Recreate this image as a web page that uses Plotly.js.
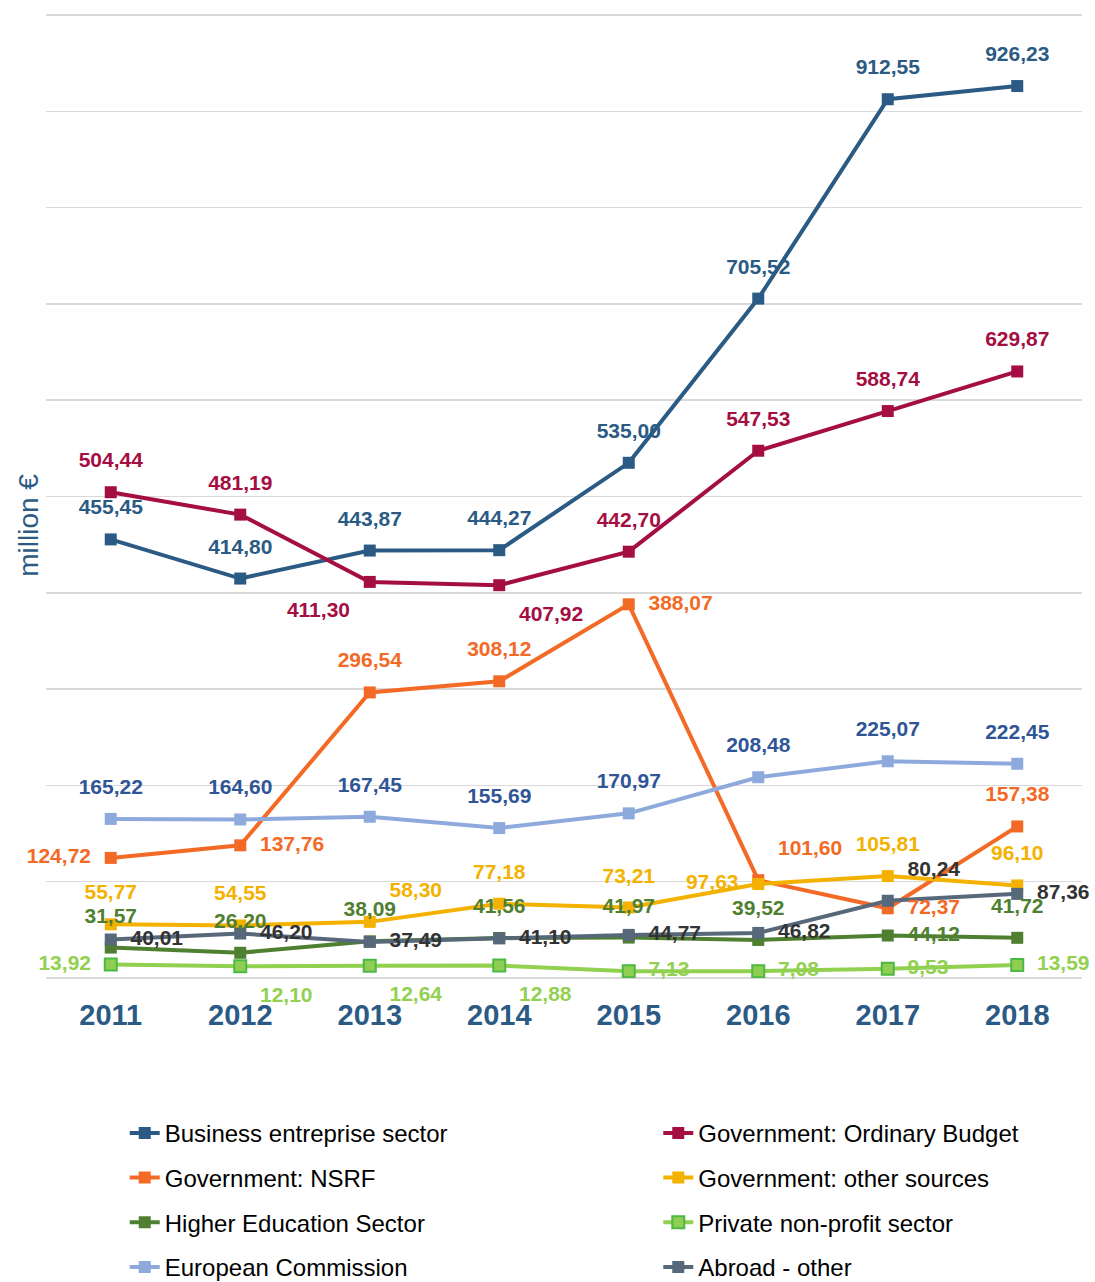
<!DOCTYPE html>
<html>
<head>
<meta charset="utf-8">
<script src="https://cdn.plot.ly/plotly-3.0.1.min.js"></script>
<style>html,body{margin:0;padding:0;background:#fff;}#chart{width:1095px;height:1282px;}</style>
</head>
<body>
<div id="chart"></div>
<script>
const years = ['2011','2012','2013','2014','2015','2016','2017','2018'];

const business      = [455.45, 414.80, 443.87, 444.27, 535.00, 705.52, 912.55, 926.23];
const govOrdinary   = [504.44, 481.19, 411.30, 407.92, 442.70, 547.53, 588.74, 629.87];
const govNSRF       = [124.72, 137.76, 296.54, 308.12, 388.07, 101.60, 72.37, 157.38];
const govOther      = [55.77, 54.55, 58.30, 77.18, 73.21, 97.63, 105.81, 96.10];
const higherEd      = [31.57, 26.20, 38.09, 41.56, 41.97, 39.52, 44.12, 41.72];
const privateNP     = [13.92, 12.10, 12.64, 12.88, 7.13, 7.08, 9.53, 13.59];
const euroComm      = [165.22, 164.60, 167.45, 155.69, 170.97, 208.48, 225.07, 222.45];
const abroadOther   = [40.01, 46.20, 37.49, 41.10, 44.77, 46.82, 80.24, 87.36];

const series = [
  {name:'Business entreprise sector', y:business, line:'#2b5b84', marker:'#2b5b84', mline:'#2b5b84', label:'#2b5b84', legend:'legend',
   pos:['top center','top center','top center','top center','top center','top center','top center','top center']},
  {name:'Government: Ordinary Budget', y:govOrdinary, line:'#a50e42', marker:'#a50e42', mline:'#a50e42', label:'#a50e42', legend:'legend2',
   pos:['top center','top center','bottom left','bottom right','top center','top center','top center','top center']},
  {name:'Government: NSRF', y:govNSRF, line:'#f36a26', marker:'#f36a26', mline:'#f36a26', label:'#f36a26', legend:'legend',
   pos:['middle left','middle right','top center','top center','middle right','top right','middle right','top center']},
  {name:'Government: other sources', y:govOther, line:'#f4b200', marker:'#f4b200', mline:'#f4b200', label:'#f4b200', legend:'legend2',
   pos:['top center','top center','top right','top center','top center','middle left','top center','top center']},
  {name:'Higher Education Sector', y:higherEd, line:'#4f7f30', marker:'#4f7f30', mline:'#4f7f30', label:'#4f7f30', legend:'legend',
   pos:['top center','top center','top center','top center','top center','top center','middle right','top center']},
  {name:'Private non-profit sector', y:privateNP, line:'#92d050', marker:'#8fce52', mline:'#4cb944', label:'#92d050', legend:'legend2',
   pos:['middle left','bottom right','bottom right','bottom right','middle right','middle right','middle right','middle right']},
  {name:'European Commission', y:euroComm, line:'#8eaadc', marker:'#8eaadc', mline:'#8eaadc', label:'#2f5597', legend:'legend',
   pos:['top center','top center','top center','top center','top center','top center','top center','top center']},
  {name:'Abroad - other', y:abroadOther, line:'#56687a', marker:'#56687a', mline:'#56687a', label:'#333333', legend:'legend2',
   pos:['middle right','middle right','middle right','middle right','middle right','middle right','top right','middle right']}
];

const fmt = v => v.toFixed(2).replace('.', ',');
const FONT = '"Liberation Sans", Arial, sans-serif';

const traces = [];
series.forEach((s, i) => {
  traces.push({
    type:'scatter', mode:'lines+markers', name:s.name, x:years, y:s.y,
    line:{color:s.line, width:4},
    marker:{symbol:'square', size:12, color:s.marker, line:{color:s.mline, width:(s.mline!==s.marker?2:0)}},
    legend:s.legend, legendgroup:'g'+i, hoverinfo:'x+y+name'
  });
});
series.forEach((s, i) => {
  traces.push({
    type:'scatter', mode:'markers+text', x:years, y:s.y,
    text:s.y.map(fmt), textposition:s.pos,
    textfont:{family:FONT, size:21, color:s.label, weight:'bold'},
    marker:{size:30, color:'rgba(0,0,0,0)'},
    showlegend:false, hoverinfo:'skip', cliponaxis:false
  });
});

const layout = {
  width:1095, height:1282,
  margin:{l:46, r:13, t:5, b:304, autoexpand:false},
  paper_bgcolor:'#ffffff', plot_bgcolor:'#ffffff',
  font:{family:FONT, color:'#000'},
  showlegend:true,
  xaxis:{
    type:'category', range:[-0.5, 7.5], showgrid:false, zeroline:false, showline:false,
    ticks:'outside', ticklen:11, tickcolor:'rgba(0,0,0,0)',
    tickfont:{family:FONT, size:29, color:'#2b5b84', weight:'bold'}
  },
  yaxis:{
    range:[0, 1010.4], tick0:0, dtick:100, showgrid:true, gridcolor:'#d9d9d9', gridwidth:1.5,
    zeroline:true, zerolinecolor:'#d9d9d9', zerolinewidth:1.5,
    showticklabels:false, ticks:''
  },
  annotations:[{
    text:'million €', textangle:-90, xref:'paper', yref:'y', x:-0.017, y:470,
    xanchor:'center', yanchor:'middle', showarrow:false,
    font:{family:FONT, size:28, color:'#2b5b84'}
  }],
  legend:{
    x:0.076, y:-0.1365, xanchor:'left', yanchor:'top', orientation:'v',
    font:{family:FONT, size:24, color:'#000'}, tracegroupgap:10.5, bgcolor:'rgba(0,0,0,0)'
  },
  legend2:{
    x:0.591, y:-0.1365, xanchor:'left', yanchor:'top', orientation:'v',
    font:{family:FONT, size:24, color:'#000'}, tracegroupgap:10.5, bgcolor:'rgba(0,0,0,0)'
  }
};

Plotly.newPlot('chart', traces, layout, {displayModeBar:false, staticPlot:true});
</script>
</body>
</html>
